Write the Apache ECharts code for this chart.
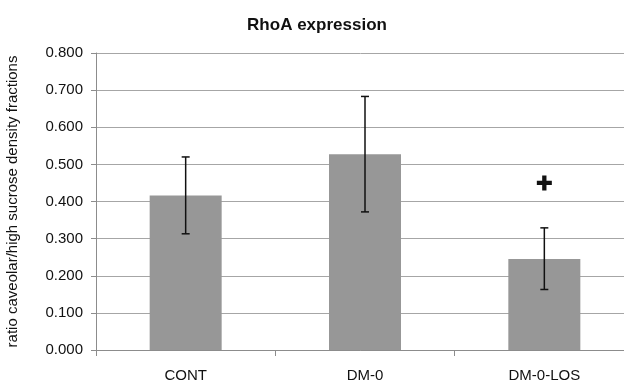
<!DOCTYPE html>
<html>
<head>
<meta charset="utf-8">
<script src="https://cdn.jsdelivr.net/npm/echarts@6/dist/echarts.min.js"></script>
<style>
  html, body { margin: 0; padding: 0; background: #fff; }
  #chart { width: 624px; height: 381px; }
</style>
</head>
<body>
<div id="chart"></div>
<script>
// values
var categories = ['CONT', 'DM-0', 'DM-0-LOS'];
var means = [0.416, 0.527, 0.245];
var errLow = [0.313, 0.372, 0.163];
var errHigh = [0.520, 0.683, 0.329];
var plusMarks = [null, null, 0.450];
var yTicks = [0, 0.1, 0.2, 0.3, 0.4, 0.5, 0.6, 0.7, 0.8];

var font = 'Liberation Sans, Arial, sans-serif';

var errData = [];
for (var i = 0; i < categories.length; i++) {
    errData.push([i, errLow[i], errHigh[i]]);
}
var plusData = [];
for (var j = 0; j < plusMarks.length; j++) {
    if (plusMarks[j] != null) plusData.push([j, plusMarks[j]]);
}

function renderError(params, api) {
    var x = api.value(0);
    var lo = api.coord([x, api.value(1)]);
    var hi = api.coord([x, api.value(2)]);
    var cap = 4;
    var style = { stroke: '#111', lineWidth: 1.5 };
    return {
        type: 'group',
        children: [
            { type: 'line', shape: { x1: lo[0], y1: lo[1], x2: hi[0], y2: hi[1] }, style: style },
            { type: 'line', shape: { x1: hi[0] - cap, y1: hi[1], x2: hi[0] + cap, y2: hi[1] }, style: style },
            { type: 'line', shape: { x1: lo[0] - cap, y1: lo[1], x2: lo[0] + cap, y2: lo[1] }, style: style }
        ]
    };
}

var myChart = echarts.init(document.getElementById('chart'));

var option = {
    animation: false,
    backgroundColor: '#fff',
    title: {
        text: 'RhoA expression',
        left: 312,
        textAlign: 'center',
        top: 12,
        textStyle: { fontFamily: font, fontSize: 17, fontWeight: 'bold', color: '#111' }
    },
    grid: { left: 96, right: -10, top: 53, bottom: 31, outerBoundsMode: 'none', containLabel: false },
    xAxis: {
        type: 'category',
        data: categories,
        axisLine: { lineStyle: { color: '#8c8c8c' } },
        axisTick: { show: true, length: 6, lineStyle: { color: '#8c8c8c' } },
        axisLabel: { fontFamily: font, fontSize: 15, color: '#111', margin: 18 }
    },
    yAxis: {
        type: 'value',
        min: yTicks[0],
        max: yTicks[yTicks.length - 1],
        interval: 0.1,
        name: 'ratio caveolar/high sucrose density fractions',
        nameLocation: 'middle',
        nameGap: 76,
        nameTextStyle: { fontFamily: font, fontSize: 15, color: '#111' },
        axisLine: { show: true, lineStyle: { color: '#8c8c8c' } },
        axisTick: { show: true, length: 5, lineStyle: { color: '#8c8c8c' } },
        splitLine: { lineStyle: { color: '#a6a6a6' } },
        axisLabel: {
            fontFamily: font, fontSize: 15, color: '#111', margin: 13,
            formatter: function (v) { return v.toFixed(3); }
        }
    },
    series: [
        {
            type: 'bar',
            data: means,
            barWidth: 72,
            itemStyle: { color: '#979797' }
        },
        {
            type: 'custom',
            renderItem: renderError,
            data: errData,
            z: 5
        },
        {
            type: 'scatter',
            data: plusData,
            symbol: 'path://M3,0h2.4v3h3v2.4h-3v3h-2.4v-3h-3v-2.4h3z',
            symbolSize: 15,
            itemStyle: { color: '#111', opacity: 1 }
        }
    ]
};

myChart.setOption(option);
</script>
</body>
</html>
